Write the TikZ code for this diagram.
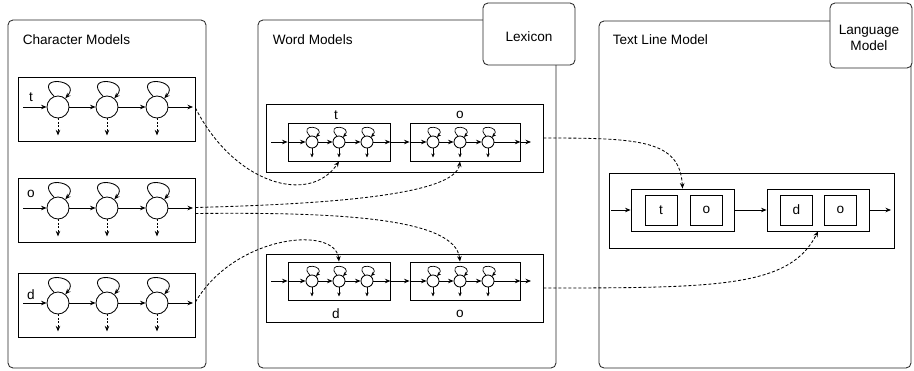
\documentclass[tikz,border=0pt]{standalone}
\usepackage{fontspec}
\setmainfont{Liberation Sans}
\usetikzlibrary{arrows.meta}
\begin{document}
\begin{tikzpicture}[x=1pt,y=-1pt, line width=0.85pt,
  >={Stealth[length=5.5pt,width=4.5pt]},
  every node/.style={font=\fontsize{13.6}{16.5}\selectfont},
  panel/.style={draw=black!85, rounded corners=5pt},
  tagbox/.style={draw=black!85, fill=white, rounded corners=5pt, inner sep=0pt},
  box/.style={draw, inner sep=0pt},
  bigc/.style={draw, circle, minimum size=22pt, inner sep=0pt},
  smallc/.style={draw, circle, minimum size=12pt, inner sep=0pt},
  conn/.style={->, dash pattern=on 3pt off 2pt}
]
\useasboundingbox (0,0) rectangle (914,371);

% panels
\draw[panel] (8,20) rectangle (206,368);
\node[anchor=west] (lab1) at (19,40) {Character Models};
\draw[panel] (258,20) rectangle (556,368);
\node[anchor=west] (lab2) at (269,40) {Word Models};
\draw[panel] (599,21) rectangle (911,368);
\node[anchor=west] (lab3) at (609,40) {Text Line Model};
\node[tagbox, minimum width=92pt, minimum height=62pt] (lex) at (529,34) {};
\node (lext) at (529,37) {Lexicon};
\node[tagbox, minimum width=82pt, minimum height=65pt] (lm) at (871,35.5) {};
\node[align=center] (lmt) at (869,38) {Language\\Model};

% character models
\foreach \n/\cy/\ly in {t/107/97, o/208/194, d/303/295} {
  \node[box, minimum width=177pt, minimum height=64pt] (cb\n) at (106.5,\cy+2) {};
  \node (l\n) at (31,\ly) {\n};
  \node[bigc] (c\n1) at (58,\cy) {};
  \node[bigc] (c\n2) at (107,\cy) {};
  \node[bigc] (c\n3) at (157,\cy) {};
  \coordinate (ci\n) at (23,\cy);
  \coordinate (co\n) at (193,\cy);
  \draw[->] (ci\n) -- (c\n1);
  \draw[->] (c\n1) -- (c\n2);
  \draw[->] (c\n2) -- (c\n3);
  \draw[->] (c\n3) -- (co\n);
  \foreach \k in {1,2,3} {
    \draw[->] (c\n\k.110) .. controls +(-22,-22) and +(17,-19) .. (c\n\k.50);
    \coordinate (cd\n\k) at ([yshift=-17pt]c\n\k.south);
    \draw[->, dash pattern=on 2pt off 1.5pt] (c\n\k) -- (cd\n\k);
  }
}

% word models
\foreach \r/\oy/\iy/\ly/\la/\lb in {1/138/142/115/t/o, 2/288/281/314/d/o} {
  \node[box, minimum width=277pt, minimum height=68pt] (wo\r) at (404.5,\oy) {};
  \node[box, minimum width=102pt, minimum height=38pt] (wa\r) at (339,\iy) {};
  \node[box, minimum width=110pt, minimum height=38pt] (wb\r) at (465,\iy) {};
  \node (lwa\r) at (336,\ly) {\la};
  \node (lwb\r) at (460,\ly) {\lb};
  \node[smallc] (wa\r c1) at (312,\iy) {};
  \node[smallc] (wa\r c2) at (339,\iy) {};
  \node[smallc] (wa\r c3) at (367,\iy) {};
  \node[smallc] (wb\r c1) at (433,\iy) {};
  \node[smallc] (wb\r c2) at (460,\iy) {};
  \node[smallc] (wb\r c3) at (488,\iy) {};
  \coordinate (wi\r) at (271,\iy);
  \coordinate (wout\r) at (531,\iy);
  \draw[->] (wi\r) -- (wa\r.west |- wa\r c1);
  \draw[->] (wa\r.west |- wa\r c1) -- (wa\r c1);
  \draw[->] (wa\r c1) -- (wa\r c2);
  \draw[->] (wa\r c2) -- (wa\r c3);
  \draw[->] (wa\r c3) -- (wa\r.east |- wa\r c3);
  \draw[->] (wa\r.east |- wa\r c3) -- (wb\r.west |- wb\r c1);
  \draw[->] (wb\r.west |- wb\r c1) -- (wb\r c1);
  \draw[->] (wb\r c1) -- (wb\r c2);
  \draw[->] (wb\r c2) -- (wb\r c3);
  \draw[->] (wb\r c3) -- (wb\r.east |- wb\r c3);
  \draw[->] (wb\r.east |- wb\r c3) -- (wout\r);
  \foreach \b in {a,b} {
    \foreach \k in {1,2,3} {
      \draw[->, line width=0.7pt, >={Stealth[length=4pt,width=3.5pt]}] (w\b\r c\k.110) .. controls +(-12,-13) and +(10,-11) .. (w\b\r c\k.50);
      \coordinate (wd\b\r\k) at ([yshift=-9pt]w\b\r c\k.south);
      \draw[->, >={Stealth[length=4pt,width=3.5pt]}] (w\b\r c\k) -- (wd\b\r\k);
    }
  }
}

% text line model
\node[box, minimum width=285pt, minimum height=75pt] (tlo) at (751.5,210.5) {};
\node[box, minimum width=103pt, minimum height=42pt] (ta) at (682.5,210) {};
\node[box, minimum width=102pt, minimum height=42pt] (tb) at (818,210) {};
\node[box, minimum width=32pt, minimum height=30pt] (ta1) at (661,210) {t};
\node[box, minimum width=32pt, minimum height=30pt] (ta2) at (706.5,210) {o};
\node[box, minimum width=32pt, minimum height=30pt] (tb1) at (796.5,210) {d};
\node[box, minimum width=32pt, minimum height=30pt] (tb2) at (840.5,210) {o};
\coordinate (tin) at (611,210);
\coordinate (tout) at (891,210);
\draw[->] (tin) -- (ta);
\draw[->] (ta) -- (tb);
\draw[->] (tb) -- (tout);

% dashed connectors
\draw[conn] ([yshift=1pt]cbt.east) .. controls (235,185) and (310,205) .. (wa1c2 |- wa1.south);
\draw[conn] ([yshift=2.5pt]cbo.east) .. controls (330,204) and (455,195) .. (wb1c2 |- wb1.south);
\draw[conn] ([yshift=-3.5pt]cbo.east) .. controls (340,212) and (455,218) .. (wb2c2 |- wb2.north);
\draw[conn] ([yshift=3pt]cbd.east) .. controls (235,235) and (335,225) .. (wa2c2 |- wa2.north);
\draw[conn] (wo1.east) .. controls (640,138) and (680,140) .. (ta.north);
\draw[conn] (wo2.east) .. controls (720,288) and (790,287) .. (tb.south);
\end{tikzpicture}
\end{document}
